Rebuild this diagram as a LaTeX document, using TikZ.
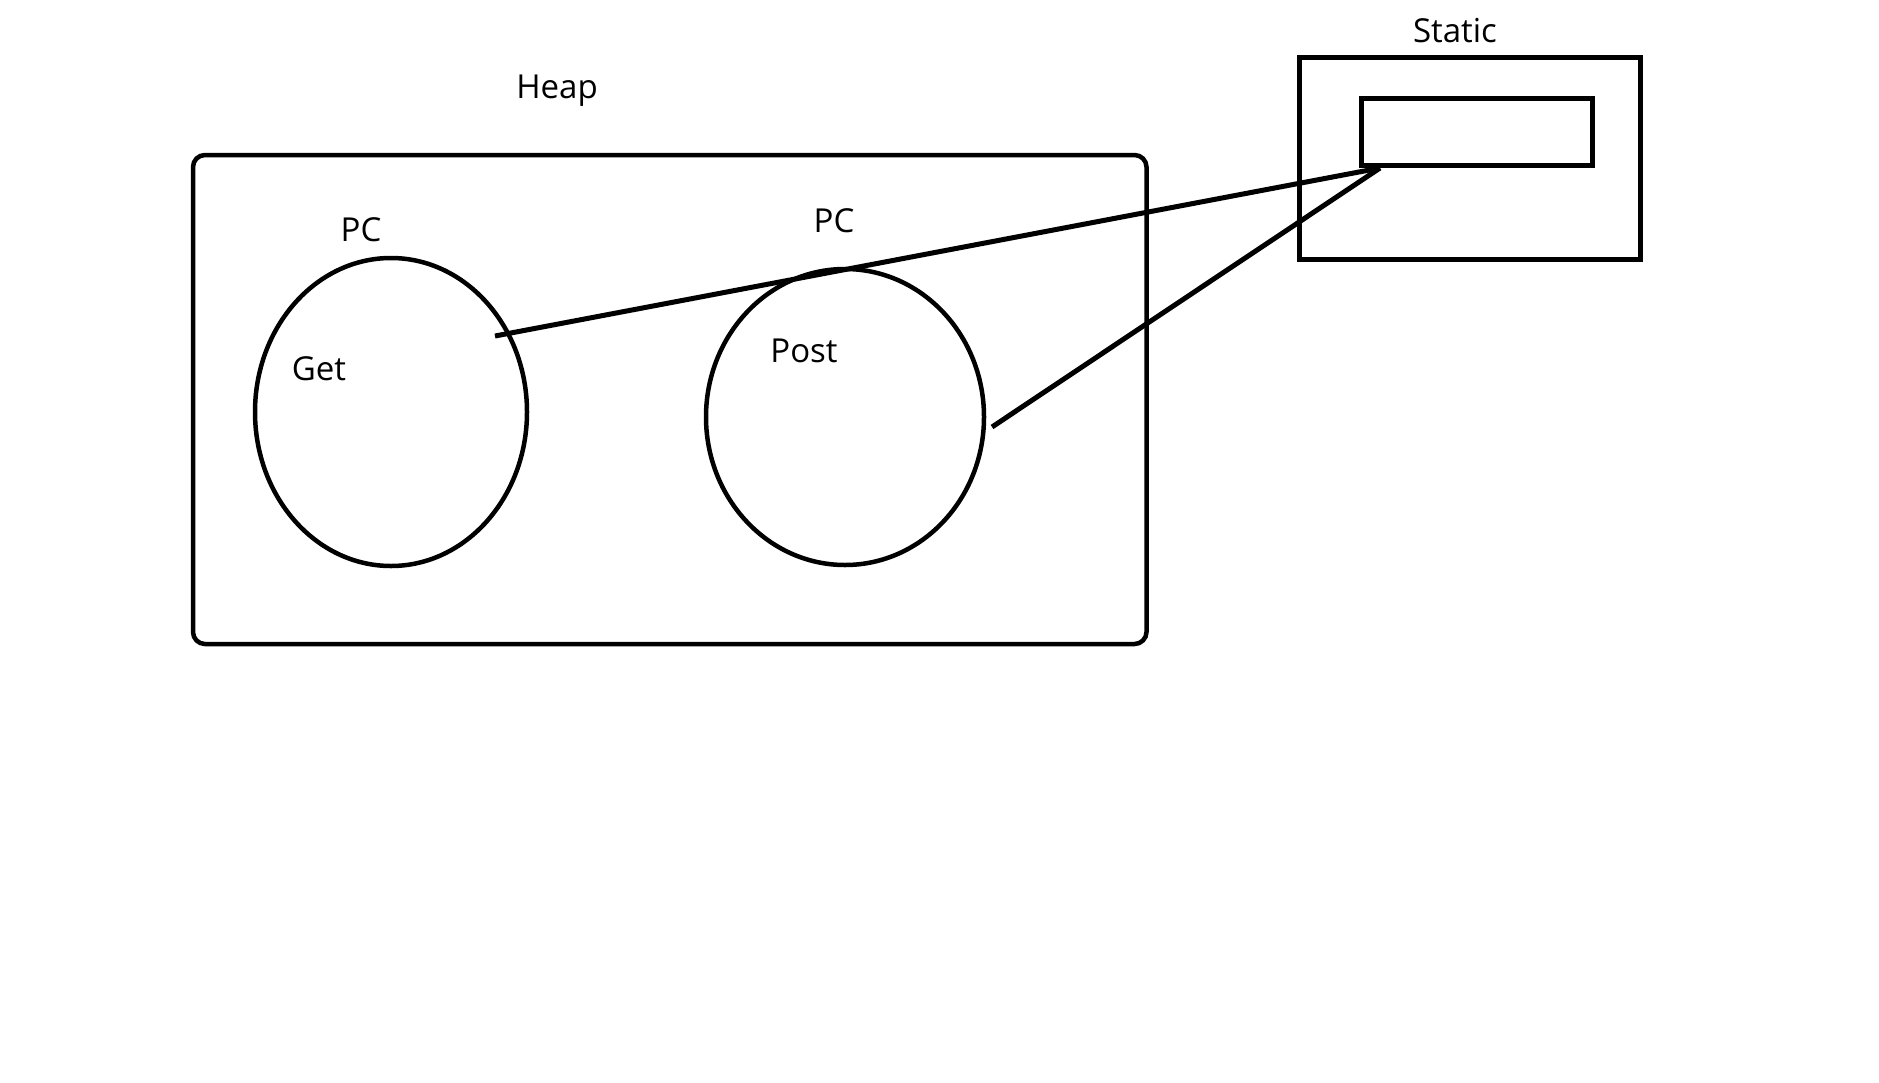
\documentclass[tikz,border=0pt]{standalone}
\usepackage{fontspec}
\setmainfont{Open Sans}
\usetikzlibrary{shapes.geometric}
\begin{document}
\begin{tikzpicture}[x=1pt,y=-1pt,
  lbl/.style={anchor=base,inner sep=0pt,font=\fontsize{33}{40}\selectfont},
  oval/.style={draw,line width=4.5pt,ellipse,inner sep=0pt},
  heapbox/.style={draw,line width=4.5pt,rounded corners=12pt},
  statbox/.style={draw,line width=5pt},
  link/.style={line width=5pt}]
\useasboundingbox (0,0) rectangle (1879,1082);
% labels
\node[lbl] (heaplbl) at (557,98) {Heap};
\node[lbl] (statlbl) at (1455,42) {Static};
\node[lbl] (pc1) at (361,241) {PC};
\node[lbl] (pc2) at (834,232) {PC};
% heap box
\draw[heapbox] (193,155) rectangle (1146.5,644);
% ellipses
\node[oval,minimum width=272pt,minimum height=308pt] (get) at (391,412) {};
\node[oval,minimum width=278pt,minimum height=296pt] (post) at (845,417) {};
\node[lbl] (getlbl) at (319,380) {Get};
\node[lbl] (postlbl) at (804,362) {Post};
% static box
\draw[statbox] (1299.5,57.5) rectangle (1640,259.5);
\draw[statbox] (1361.5,98) rectangle (1592,165);
% connectors
\coordinate (ga) at (495,336);
\coordinate (pa) at (992,427);
\coordinate (sp) at (1380,168);
\draw[link] (ga) -- (sp);
\draw[link] (pa) -- (sp);
\end{tikzpicture}
\end{document}
